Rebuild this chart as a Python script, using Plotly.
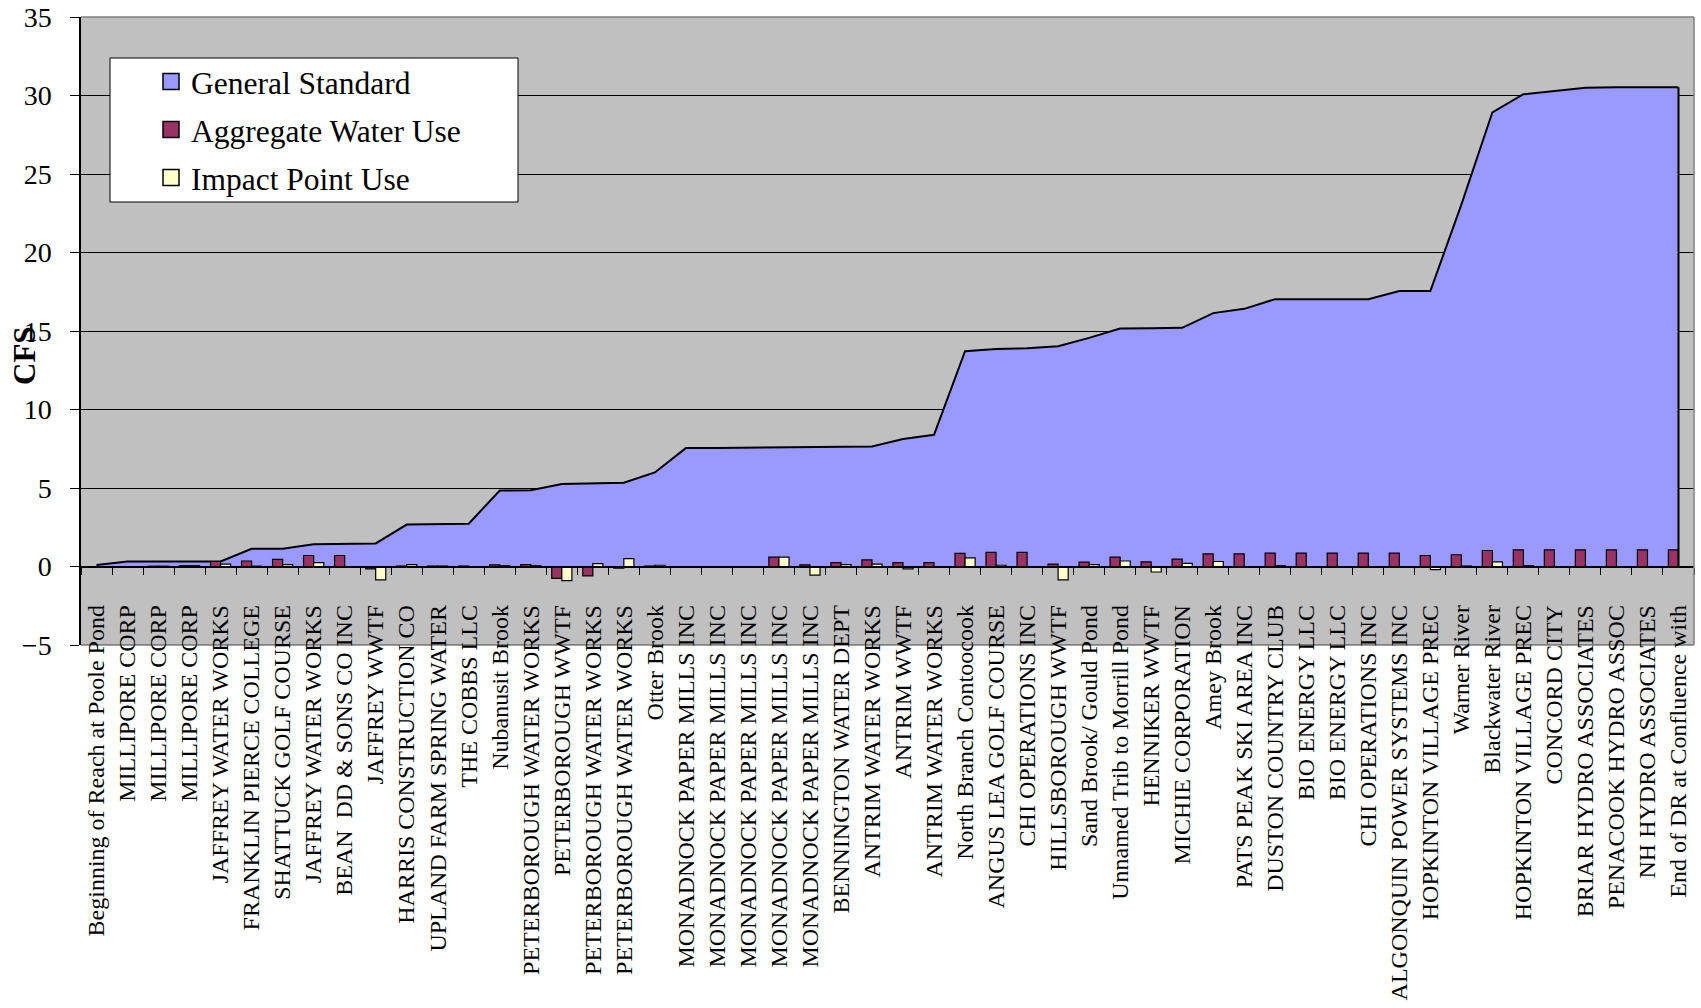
import plotly.graph_objects as go

labels = [
    "Beginning of Reach at Poole Pond", "MILLIPORE CORP", "MILLIPORE CORP", "MILLIPORE CORP",
    "JAFFREY WATER WORKS", "FRANKLIN PIERCE COLLEGE", "SHATTUCK GOLF COURSE", "JAFFREY WATER WORKS",
    "BEAN  DD & SONS CO INC", "JAFFREY WWTF", "HARRIS CONSTRUCTION CO", "UPLAND FARM SPRING WATER",
    "THE COBBS LLC", "Nubanusit Brook", "PETERBOROUGH WATER WORKS", "PETERBOROUGH WWTF",
    "PETERBOROUGH WATER WORKS", "PETERBOROUGH WATER WORKS", "Otter Brook", "MONADNOCK PAPER MILLS INC",
    "MONADNOCK PAPER MILLS INC", "MONADNOCK PAPER MILLS INC", "MONADNOCK PAPER MILLS INC",
    "MONADNOCK PAPER MILLS INC", "BENNINGTON WATER DEPT", "ANTRIM WATER WORKS", "ANTRIM WWTF",
    "ANTRIM WATER WORKS", "North Branch Contoocook", "ANGUS LEA GOLF COURSE", "CHI OPERATIONS INC",
    "HILLSBOROUGH WWTF", "Sand Brook/ Gould Pond", "Unnamed Trib to Morrill Pond", "HENNIKER WWTF",
    "MICHIE CORPORATION", "Amey Brook", "PATS PEAK SKI AREA INC", "DUSTON COUNTRY CLUB",
    "BIO ENERGY LLC", "BIO ENERGY LLC", "CHI OPERATIONS INC", "ALGONQUIN POWER SYSTEMS INC",
    "HOPKINTON VILLAGE PREC", "Warner River", "Blackwater River", "HOPKINTON VILLAGE PREC",
    "CONCORD CITY", "BRIAR HYDRO ASSOCIATES", "PENACOOK HYDRO ASSOC", "NH HYDRO ASSOCIATES",
    "End of DR at Confluence with",
]

general_standard = [
    0.10, 0.32, 0.32, 0.32, 0.32, 1.13, 1.13, 1.41, 1.43, 1.47,
    2.67, 2.69, 2.73, 4.84, 4.86, 5.26, 5.31, 5.33, 5.99, 7.54,
    7.54, 7.56, 7.58, 7.60, 7.62, 7.65, 8.12, 8.39, 13.71, 13.86,
    13.90, 14.03, 14.56, 15.16, 15.18, 15.20, 16.14, 16.41, 17.03, 17.03,
    17.03, 17.03, 17.54, 17.54, 23.05, 28.93, 30.08, 30.29, 30.49, 30.53,
    30.53, 30.53,
]

aggregate_use = [
    0.00, 0.00, 0.02, 0.05, 0.32, 0.35, 0.45, 0.70, 0.70, -0.15,
    0.03, 0.03, 0.03, 0.10, 0.12, -0.75, -0.60, -0.10, 0.03, 0.00,
    0.00, 0.00, 0.60, 0.10, 0.25, 0.42, 0.25, 0.25, 0.83, 0.90,
    0.90, 0.15, 0.28, 0.60, 0.30, 0.47, 0.80, 0.80, 0.85, 0.85,
    0.85, 0.85, 0.85, 0.70, 0.75, 1.02, 1.06, 1.06, 1.06, 1.06,
    1.06, 1.06,
]

impact_use = [
    0.00, 0.00, 0.02, 0.05, 0.15, 0.02, 0.12, 0.25, 0.00, -0.85,
    0.12, 0.03, 0.00, 0.05, 0.05, -0.90, 0.18, 0.50, 0.08, 0.00,
    0.00, 0.00, 0.60, -0.55, 0.12, 0.15, -0.15, 0.00, 0.55, 0.08,
    0.00, -0.85, 0.12, 0.35, -0.35, 0.20, 0.32, 0.00, 0.05, 0.00,
    0.00, 0.00, 0.00, -0.20, 0.03, 0.30, 0.05, 0.00, 0.00, 0.00,
    0.00, 0.00,
]

series_names = ["General Standard", "Aggregate Water Use", "Impact Point Use"]
y_tick_values = [-5, 0, 5, 10, 15, 20, 25, 30, 35]

FONT = "Liberation Serif"
C_GEN = "#9999FF"
C_AGG = "#993366"
C_IMP = "#FFFFCC"

n = len(labels)
idx = list(range(n))
ymin, ymax = y_tick_values[0], y_tick_values[-1]

fig = go.Figure()

# area (base subplot, drawn underneath)
fig.add_trace(go.Scatter(
    x=idx, y=general_standard, mode="lines", fill="tozeroy",
    fillcolor=C_GEN, line=dict(color="black", width=2),
    showlegend=False, hoverinfo="skip", xaxis="x", yaxis="y",
))

# bars on an overlaid y axis so they are drawn above the area
fig.add_trace(go.Bar(
    x=idx, y=aggregate_use, marker=dict(color=C_AGG, line=dict(color="black", width=1.2)),
    showlegend=False, name=series_names[1], xaxis="x", yaxis="y2",
))
fig.add_trace(go.Bar(
    x=idx, y=impact_use, marker=dict(color=C_IMP, line=dict(color="black", width=1.2)),
    showlegend=False, name=series_names[2], xaxis="x", yaxis="y2",
))

# legend entries
for name, col in zip(series_names, [C_GEN, C_AGG, C_IMP]):
    fig.add_trace(go.Scatter(
        x=[None], y=[None], mode="markers", name=name, legendgroup=name,
        marker=dict(symbol="square", size=16, color=col, line=dict(color="black", width=1.5)),
        xaxis="x", yaxis="y",
    ))

L, R, T, B = 81, 7, 17, 363
W, H = 1701, 1008
pw, ph = W - L - R, H - T - B

def px_x(p):
    return (p - L) / pw

def px_y(p):
    return (H - B - p) / ph

zero_pos = (0 - ymin) / (ymax - ymin)

shapes = [
    # right closing edge of the area
    dict(type="line", xref="x", yref="y", x0=idx[-1], x1=idx[-1], y0=0, y1=general_standard[-1],
         line=dict(color="black", width=2), layer="above"),
    # plot border top/right/bottom
    dict(type="line", xref="paper", yref="paper", x0=0, x1=1, y0=1, y1=1,
         line=dict(color="#808080", width=1.5), layer="above"),
    dict(type="line", xref="paper", yref="paper", x0=1, x1=1, y0=0, y1=1,
         line=dict(color="#808080", width=1.5), layer="above"),
    dict(type="line", xref="paper", yref="paper", x0=0, x1=1, y0=0, y1=0,
         line=dict(color="#404040", width=1), layer="below"),
    # legend frame
    dict(type="rect", xref="paper", yref="paper", x0=px_x(110), x1=px_x(518),
         y0=px_y(202), y1=px_y(58), fillcolor="white", line=dict(color="black", width=1), layer="above"),
]

fig.update_layout(
    width=W, height=H,
    margin=dict(l=L, r=R, t=T, b=B, pad=0, autoexpand=False),
    paper_bgcolor="white", plot_bgcolor="#C0C0C0",
    font=dict(family=FONT, color="black"),
    barmode="group", bargap=0.35, bargroupgap=0,
    showlegend=True,
    legend=dict(
        x=px_x(151), y=px_y(54.5), xanchor="left", yanchor="top",
        bgcolor="rgba(0,0,0,0)", borderwidth=0, tracegroupgap=4,
        font=dict(family=FONT, size=31.5, color="black"), itemsizing="trace",
    ),
    xaxis=dict(
        range=[-0.5, n - 0.5], tickmode="array", tickvals=idx, ticktext=labels,
        tickangle=-90, tickfont=dict(family=FONT, size=24, color="black"),
        ticks="", showgrid=False, zeroline=False, automargin=False,
        anchor="free", position=zero_pos,
        showline=True, linecolor="black", linewidth=2,
        ticklabelstandoff=28,
        minor=dict(tickmode="array", tickvals=[i - 0.5 for i in range(n + 1)],
                   ticks="outside", ticklen=7, tickcolor="black", tickwidth=1, showgrid=False),
    ),
    yaxis=dict(
        range=[ymin, ymax], tickmode="array", tickvals=y_tick_values,
        showgrid=True, gridcolor="black", gridwidth=1, zeroline=False, automargin=False,
        showline=True, linecolor="black", linewidth=1.5,
        ticks="outside", ticklen=9, tickcolor="black", tickwidth=1,
        tickfont=dict(family=FONT, size=28, color="black"),
        ticklabelstandoff=13,
    ),
    yaxis2=dict(range=[ymin, ymax], overlaying="y", visible=False, automargin=False),
    shapes=shapes,
    annotations=[dict(
        text="<b>CFS</b>", xref="paper", yref="paper", x=px_x(24), y=px_y(356),
        xanchor="center", yanchor="middle", textangle=-90, showarrow=False,
        font=dict(family=FONT, size=31, color="black"),
    )],
)

fig.write_html(
    "out.html",
    config={"displayModeBar": False},
    post_script="document.body.style.margin='0';document.body.style.overflow='hidden';",
)
